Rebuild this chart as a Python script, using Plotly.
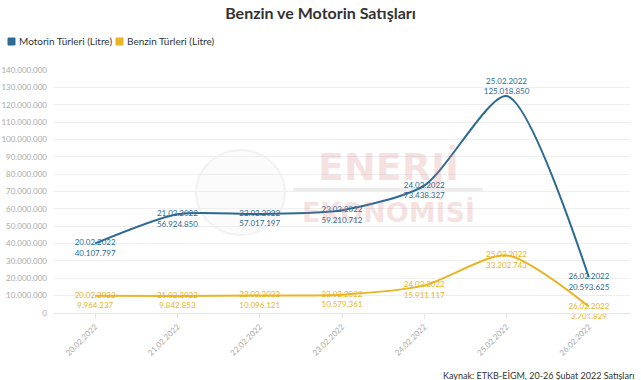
import plotly.graph_objects as go

dates = ["20.02.2022", "21.02.2022", "22.02.2022", "23.02.2022", "24.02.2022", "25.02.2022", "26.02.2022"]
motorin = [40107797, 56924850, 57017197, 59210712, 73438327, 125018850, 20593625]
benzin = [9964237, 9842853, 10096121, 10579361, 15911117, 33202743, 3701829]
yticks = list(range(0, 140000001, 10000000))
series_names = ["Motorin Türleri (Litre)", "Benzin Türleri (Litre)"]

BLUE = "#2c6a93"
GOLD = "#e9b524"
FONT = "Lato"

W, H = 641, 380
L, R, T, B = 54, 11, 70, 67
PW, PH = W - L - R, H - T - B


def px_x(p):
    return (p - L) / PW


def px_y(p):
    return (H - B - p) / PH


def fmt(v):
    return f"{v:,}".replace(",", ".")


def labels(vals, top_idx=None):
    out, pos = [], []
    for i, (d, v) in enumerate(zip(dates, vals)):
        if i == top_idx:
            out.append(f"{d}<br>{fmt(v)}")
            pos.append("top center")
        else:
            out.append(f"\u00a0<br>{d}<br>{fmt(v)}")
            pos.append("middle center")
    return out, pos


fig = go.Figure()

# watermark
WM = "rgba(215,120,120,0.22)"
fig.add_annotation(x=px_x(388), y=px_y(167), xref="paper", yref="paper", text="<b>ENERJİ</b>",
                   showarrow=False, font=dict(family="DejaVu Sans", size=38, color=WM))
fig.add_annotation(x=px_x(388), y=px_y(212), xref="paper", yref="paper", text="<b>EKONOMİSİ</b>",
                   showarrow=False, font=dict(family="DejaVu Sans", size=27, color=WM))
fig.add_shape(type="line", xref="paper", yref="paper", x0=px_x(293), x1=px_x(483), y0=px_y(190), y1=px_y(190),
              line=dict(color="rgba(200,200,200,0.35)", width=4), layer="below")
fig.add_shape(type="circle", xref="paper", yref="paper", x0=px_x(196), x1=px_x(285), y0=px_y(235), y1=px_y(150),
              line=dict(color="rgba(180,180,180,0.15)", width=2), fillcolor="rgba(200,200,200,0.08)", layer="below")

mt, mp = labels(motorin, top_idx=5)
bt, bp = labels(benzin)

fig.add_trace(go.Scatter(x=dates, y=motorin, mode="lines+text", line=dict(color=BLUE, width=2, shape="spline", smoothing=0.7),
                         text=mt, textposition=mp, textfont=dict(family=FONT, size=8, color=BLUE),
                         showlegend=False, hoverinfo="skip", cliponaxis=False, name=series_names[0]))
fig.add_trace(go.Scatter(x=dates, y=benzin, mode="lines+text", line=dict(color=GOLD, width=2, shape="spline", smoothing=0.7),
                         text=bt, textposition=bp, textfont=dict(family=FONT, size=8, color=GOLD),
                         showlegend=False, hoverinfo="skip", cliponaxis=False, name=series_names[1]))

# legend (manual)
legend_items = [(8, BLUE, series_names[0]), (116, GOLD, series_names[1])]
for x0, col, name in legend_items:
    fig.add_shape(type="rect", xref="paper", yref="paper", x0=px_x(x0), x1=px_x(x0 + 7), y0=px_y(45), y1=px_y(38),
                  fillcolor=col, line=dict(color=col, width=1))
    fig.add_annotation(x=px_x(x0 + 9), y=px_y(41.5), xref="paper", yref="paper", text=name, showarrow=False,
                       xanchor="left", yanchor="middle", font=dict(family=FONT, size=10, color="#333333"))

fig.update_layout(
    width=W, height=H,
    margin=dict(l=L, r=R, t=T, b=B, autoexpand=False),
    paper_bgcolor="white", plot_bgcolor="white",
    font=dict(family=FONT, color="#333333"),
    title=dict(text="<b>Benzin ve Motorin Satışları</b>", x=0.5, xanchor="center", y=1 - 13 / H, yanchor="middle",
               font=dict(family=FONT, size=16, color="#333333")),
    showlegend=False,
)

fig.update_xaxes(type="category", range=[-0.5, 6.5], tickangle=-45, showgrid=False, automargin=False,
                 ticks="outside", ticklen=5, tickcolor="#e6e6e6", showline=True, linecolor="#e6e6e6",
                 tickfont=dict(family=FONT, size=8, color="#aaaaaa"), fixedrange=True)
fig.update_yaxes(range=[0, 140000000], tickvals=yticks, ticktext=[fmt(v) for v in yticks], automargin=False,
                 showgrid=True, gridcolor="#eeeeee", gridwidth=1, zeroline=False, showline=False,
                 tickfont=dict(family=FONT, size=8, color="#aaaaaa"), ticklabelstandoff=6)

fig.add_annotation(x=px_x(636), y=px_y(375), xref="paper", yref="paper",
                   text="Kaynak: ETKB-EİGM, 20-26 Şubat 2022 Satışları",
                   showarrow=False, xanchor="right", yanchor="middle",
                   font=dict(family=FONT, size=9, color="#333333"))

fig.write_html("out.html", config={"displayModeBar": False},
               post_script="document.body.style.margin='0';")
